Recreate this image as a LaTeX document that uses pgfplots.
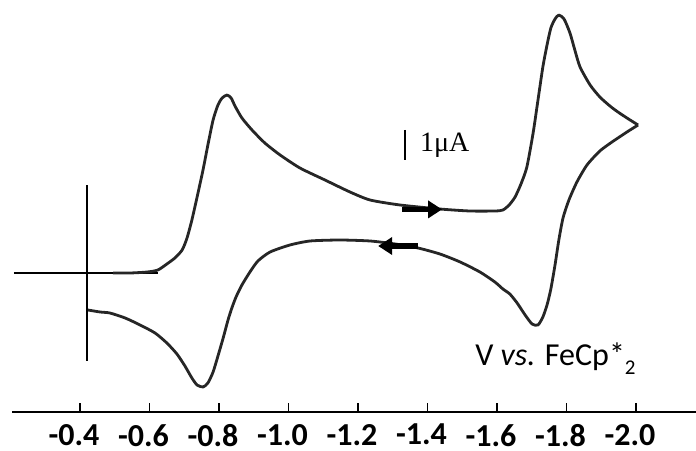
\documentclass[border=0pt]{standalone}
\usepackage{pgfplots}
\pgfplotsset{compat=1.18}
\usepackage{fontspec}
\setmainfont{Carlito}
\newfontfamily\timesfont{Liberation Serif}
\usetikzlibrary{arrows.meta}

\begin{document}
\begin{tikzpicture}
\begin{axis}[
    at={(12pt,38pt)}, anchor=south west,
    scale only axis,
    width=684pt, height=412pt,
    x dir=reverse,
    xmin=-2.1727, xmax=-0.2043,
    ymin=-4.633, ymax=9.1,
    axis x line=bottom,
    axis y line=none,
    axis line style={-, line width=2pt},
    xtick={-0.4,-0.6,-0.8,-1.0,-1.2,-1.4,-1.6,-1.8,-2.0},
    xticklabels={-0.4,-0.6,-0.8,-1.0,-1.2,-1.4,-1.6,-1.8,-2.0},
    ytick=\empty,
    tick align=inside,
    major tick length=9pt,
    x tick style={line width=1.5pt, black},
    xticklabel style={font=\fontsize{32}{34}\selectfont\bfseries, inner sep=0pt,
        text depth=0pt, anchor=north, yshift=-12pt, xshift=-6pt},
    clip=false,
]
% reference cross
\addplot[black, line width=2pt] coordinates {(-0.210,0) (-0.624,0)};
\addplot[black, line width=2pt] coordinates {(-0.420,2.933) (-0.420,-2.933)};

% forward scan (towards negative potential)
\addplot[black!85, line width=2.8pt, smooth, tension=0.4, line join=round] coordinates {
(-0.495,0) (-0.544,0) (-0.593,0.033) (-0.624,0.100) (-0.650,0.300) (-0.673,0.500)
(-0.694,0.767) (-0.708,1.167) (-0.722,1.767) (-0.737,2.533) (-0.754,3.433)
(-0.768,4.267) (-0.783,5.100) (-0.797,5.600) (-0.809,5.833) (-0.823,5.933)
(-0.835,5.833) (-0.846,5.567) (-0.866,5.167) (-0.895,4.767) (-0.932,4.333)
(-0.976,3.933) (-1.033,3.500) (-1.105,3.100) (-1.177,2.700) (-1.235,2.433)
(-1.321,2.267) (-1.436,2.133) (-1.522,2.067) (-1.594,2.067) (-1.617,2.100)
(-1.635,2.267) (-1.652,2.533) (-1.669,2.967) (-1.686,3.533) (-1.704,4.667)
(-1.718,5.767) (-1.732,6.867) (-1.744,7.600) (-1.755,8.167) (-1.767,8.467)
(-1.778,8.600) (-1.793,8.467) (-1.810,8.000) (-1.824,7.433) (-1.839,6.867)
(-1.868,6.267) (-1.896,5.867) (-1.925,5.567) (-1.948,5.367) (-1.974,5.167)
(-2.006,4.933)
};
% reverse scan
\addplot[black!85, line width=2.8pt, smooth, tension=0.4, line join=round] coordinates {
(-2.006,4.933) (-1.974,4.700) (-1.931,4.367) (-1.896,4.067) (-1.859,3.600)
(-1.830,3.033) (-1.807,2.433) (-1.790,1.833) (-1.778,1.100) (-1.767,0.267)
(-1.755,-0.533) (-1.744,-1.067) (-1.732,-1.467) (-1.718,-1.733) (-1.701,-1.700)
(-1.681,-1.400) (-1.658,-1.000) (-1.637,-0.700) (-1.617,-0.533) (-1.594,-0.300)
(-1.551,0.033) (-1.494,0.367) (-1.436,0.633) (-1.373,0.833) (-1.307,0.967)
(-1.235,1.067) (-1.148,1.100) (-1.062,1.067) (-1.004,0.933) (-0.947,0.700)
(-0.912,0.400) (-0.889,0.033) (-0.866,-0.400) (-0.849,-0.800) (-0.837,-1.167)
(-0.826,-1.567) (-0.812,-2.167) (-0.797,-2.767) (-0.783,-3.300) (-0.768,-3.667)
(-0.754,-3.800) (-0.737,-3.733) (-0.722,-3.500) (-0.702,-3.100) (-0.679,-2.700)
(-0.650,-2.333) (-0.616,-2.000) (-0.573,-1.733) (-0.530,-1.500) (-0.486,-1.333)
(-0.458,-1.300) (-0.423,-1.233)
};

% scan direction arrows
\addplot[black, line width=5.5pt, -{Triangle[width=17pt,length=14pt]}] coordinates {(-1.327,2.12) (-1.442,2.12)};
\addplot[black, line width=5.5pt, -{Triangle[width=17pt,length=14pt]}] coordinates {(-1.373,0.90) (-1.258,0.90)};

% current scale bar
\addplot[black, line width=2.5pt] coordinates {(-1.335,4.767) (-1.335,3.767)};
\node[anchor=west, inner sep=0pt, font=\timesfont\fontsize{28}{30}\selectfont] at (axis cs:-1.378,4.267) {1μA};

\node[anchor=base west, inner sep=0pt, font=\fontsize{32}{34}\selectfont] at (axis cs:-1.537,-3.067)
    {V \textit{vs.} FeCp*\raisebox{-9pt}{\fontsize{21}{22}\selectfont 2}};
\end{axis}
\pgfresetboundingbox
\path (0,0) rectangle (696pt,450pt);
\end{tikzpicture}
\end{document}
